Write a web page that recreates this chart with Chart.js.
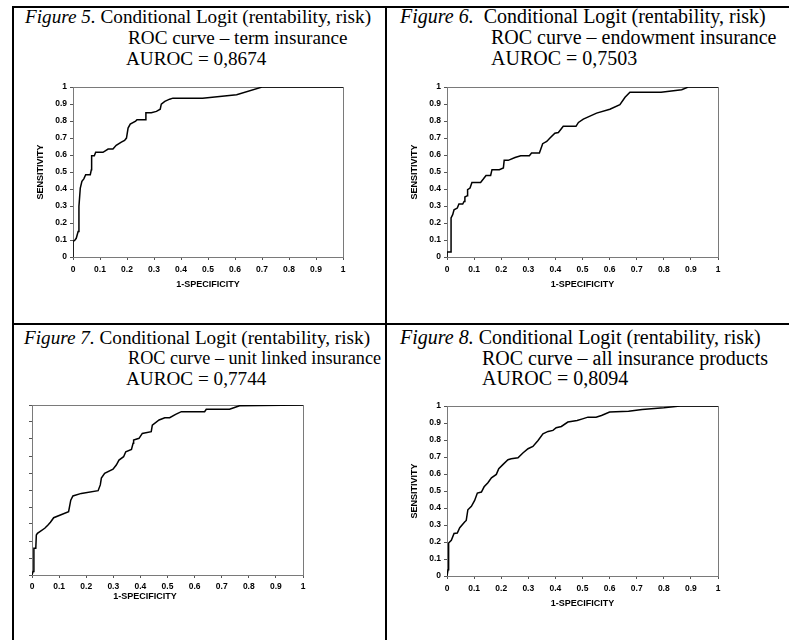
<!DOCTYPE html>
<html>
<head>
<meta charset="utf-8">
<script src="https://cdn.jsdelivr.net/npm/chart.js@4.4.1/dist/chart.umd.min.js"></script>
<style>
  html, body { margin: 0; padding: 0; background: #fff; }
  body { width: 789px; height: 640px; position: relative; overflow: hidden; }
  .rule { position: absolute; background: #000; }
  .cap { position: absolute; font-family: "Liberation Serif", "Times New Roman", serif; font-size: 19.2px; line-height: 21px; white-space: pre; color: #000; }
  .cap.r { font-size: 20px; }
  canvas { position: absolute; }
</style>
</head>
<body>
<!-- table rules -->
<div class="rule" style="left:12px;top:6px;width:2px;height:634px"></div>
<div class="rule" style="left:12px;top:6px;width:777px;height:2px"></div>
<div class="rule" style="left:385px;top:6px;width:2px;height:634px"></div>
<div class="rule" style="left:12px;top:323px;width:777px;height:2px"></div>

<div class="cap" style="left:25px;top:6px"><i>Figure 5.</i> Conditional Logit (rentability, risk)</div>
<div class="cap" style="left:128px;top:27px">ROC curve – term insurance</div>
<div class="cap" style="left:126px;top:48px">AUROC = 0,8674</div>

<div class="cap r" style="left:400px;top:6px"><i>Figure 6.</i>  Conditional Logit (rentability, risk)</div>
<div class="cap r" style="left:491px;top:27px">ROC curve – endowment insurance</div>
<div class="cap r" style="left:491px;top:48px">AUROC = 0,7503</div>

<div class="cap" style="left:24px;top:327px"><i>Figure 7.</i> Conditional Logit (rentability, risk)</div>
<div class="cap" style="left:128px;top:348px;font-size:18.2px">ROC curve – unit linked insurance</div>
<div class="cap" style="left:126px;top:368px">AUROC = 0,7744</div>

<div class="cap r" style="left:400px;top:327px"><i>Figure 8.</i> Conditional Logit (rentability, risk)</div>
<div class="cap r" style="left:482px;top:348px">ROC curve – all insurance products</div>
<div class="cap r" style="left:482px;top:368px">AUROC = 0,8094</div>

<canvas id="fig5"></canvas>
<canvas id="fig6"></canvas>
<canvas id="fig7"></canvas>
<canvas id="fig8"></canvas>

<script>
// tick labels shared by both axes
const tickLabels = ["0", "0.1", "0.2", "0.3", "0.4", "0.5", "0.6", "0.7", "0.8", "0.9", "1"];

// Figure 5 - term insurance
const termFpr = [0, 0, 0.006, 0.012, 0.019, 0.022, 0.027, 0.033, 0.04, 0.047, 0.064, 0.068, 0.069, 0.079, 0.084, 0.111, 0.13, 0.148, 0.16, 0.179, 0.191, 0.198, 0.204, 0.212, 0.232, 0.237, 0.269, 0.27, 0.29, 0.309, 0.323, 0.327, 0.34, 0.358, 0.37, 0.48, 0.606, 0.7, 1];
const termTpr = [0, 0.092, 0.098, 0.11, 0.15, 0.298, 0.406, 0.445, 0.46, 0.484, 0.484, 0.514, 0.596, 0.596, 0.616, 0.616, 0.635, 0.635, 0.657, 0.676, 0.686, 0.7, 0.759, 0.782, 0.8, 0.808, 0.808, 0.849, 0.849, 0.857, 0.87, 0.9, 0.916, 0.929, 0.935, 0.935, 0.955, 1, 1];

// Figure 6 - endowment insurance
const endowFpr = [0, 0, 0.015, 0.015, 0.021, 0.026, 0.038, 0.044, 0.058, 0.063, 0.066, 0.075, 0.076, 0.085, 0.092, 0.124, 0.134, 0.144, 0.161, 0.166, 0.193, 0.208, 0.211, 0.226, 0.251, 0.272, 0.304, 0.312, 0.341, 0.353, 0.368, 0.38, 0.398, 0.411, 0.429, 0.476, 0.485, 0.503, 0.552, 0.601, 0.638, 0.657, 0.675, 0.79, 0.866, 0.89, 1];
const endowTpr = [0, 0.03, 0.03, 0.23, 0.249, 0.278, 0.288, 0.312, 0.312, 0.327, 0.353, 0.361, 0.396, 0.406, 0.439, 0.439, 0.459, 0.48, 0.48, 0.514, 0.514, 0.524, 0.569, 0.569, 0.586, 0.596, 0.596, 0.612, 0.612, 0.667, 0.68, 0.7, 0.729, 0.733, 0.769, 0.769, 0.792, 0.812, 0.847, 0.87, 0.896, 0.94, 0.97, 0.97, 0.985, 1, 1];

// Figure 7 - unit linked insurance
const unitFpr = [0, 0.004, 0.007, 0.007, 0.014, 0.016, 0.02, 0.047, 0.059, 0.068, 0.08, 0.135, 0.143, 0.151, 0.182, 0.244, 0.252, 0.256, 0.268, 0.299, 0.311, 0.321, 0.338, 0.346, 0.367, 0.373, 0.375, 0.395, 0.407, 0.44, 0.444, 0.469, 0.49, 0.508, 0.53, 0.551, 0.637, 0.643, 0.729, 0.766, 1];
const unitTpr = [0, 0.02, 0.033, 0.157, 0.157, 0.235, 0.245, 0.275, 0.294, 0.31, 0.337, 0.373, 0.44, 0.465, 0.48, 0.496, 0.53, 0.57, 0.598, 0.622, 0.647, 0.676, 0.696, 0.725, 0.739, 0.775, 0.794, 0.804, 0.833, 0.843, 0.882, 0.912, 0.925, 0.925, 0.945, 0.961, 0.961, 0.975, 0.975, 0.996, 1];

// Figure 8 - all insurance products
const allFpr = [0, 0.004, 0.006, 0.016, 0.026, 0.038, 0.047, 0.065, 0.071, 0.077, 0.09, 0.102, 0.112, 0.127, 0.137, 0.151, 0.164, 0.182, 0.191, 0.207, 0.225, 0.237, 0.262, 0.28, 0.299, 0.317, 0.336, 0.354, 0.373, 0.391, 0.403, 0.422, 0.446, 0.48, 0.5, 0.52, 0.55, 0.57, 0.6, 0.67, 0.72, 0.8, 0.86, 1];
const allTpr = [0, 0.037, 0.194, 0.21, 0.25, 0.253, 0.284, 0.318, 0.327, 0.39, 0.41, 0.445, 0.488, 0.494, 0.525, 0.549, 0.578, 0.598, 0.631, 0.657, 0.684, 0.69, 0.696, 0.724, 0.749, 0.763, 0.798, 0.837, 0.851, 0.857, 0.873, 0.88, 0.906, 0.915, 0.925, 0.935, 0.935, 0.945, 0.965, 0.97, 0.98, 0.99, 1, 1];

const frameColor = "#7a7a7a";
const tickFont = { family: "Liberation Sans, Arial, sans-serif", size: 8.5, weight: "bold" };
const titleFont = { family: "Liberation Sans, Arial, sans-serif", size: 9, weight: "bold" };

// draws one ROC panel; plot = where the chart area has to land on the page
function rocChart(id, fpr, tpr, plot, opts) {
  const axisW = opts.axisW, axisH = 40, padT = 8, padR = 8;
  const canvas = document.getElementById(id);
  canvas.width = axisW + plot.w + padR;
  canvas.height = padT + plot.h + axisH;
  canvas.style.left = (plot.x - axisW) + "px";
  canvas.style.top = (plot.y - padT) + "px";

  const frame = { color: frameColor, width: 1, dash: [3, 3] };
  const edge = (pos, fit) => ({
    type: "linear", position: pos, min: 0, max: 1,
    ticks: { display: false }, grid: { display: false },
    border: frame, afterFit: fit
  });

  new Chart(canvas, {
    type: "scatter",
    data: {
      datasets: [{
        data: fpr.map((x, i) => ({ x: x, y: tpr[i] })),
        showLine: true,
        borderColor: "#000",
        borderWidth: 1.5,
        pointRadius: 0,
        tension: 0
      }]
    },
    options: {
      responsive: false,
      animation: false,
      layout: { padding: { top: padT, right: padR, left: 0, bottom: 0 } },
      plugins: { legend: { display: false }, tooltip: { enabled: false } },
      scales: {
        x: {
          type: "linear", min: 0, max: 1,
          afterFit: (s) => { s.height = axisH; },
          ticks: {
            stepSize: 0.1, autoSkip: false, maxRotation: 0, padding: opts.xTickPad,
            color: "#000", font: tickFont,
            callback: (v, i) => tickLabels[i]
          },
          grid: { drawOnChartArea: false, drawTicks: true, tickLength: 3, tickColor: "#555" },
          border: frame,
          title: { display: true, text: opts.xTitle, color: "#000", font: titleFont, padding: { top: 0, bottom: opts.xTitlePad } }
        },
        y: {
          type: "linear", min: 0, max: 1,
          afterFit: (s) => { s.width = axisW; },
          ticks: {
            display: opts.yLabels, stepSize: 0.1, autoSkip: false, padding: 3,
            color: "#000", font: tickFont,
            callback: (v, i) => tickLabels[i]
          },
          grid: { drawOnChartArea: false, drawTicks: true, tickLength: 3, tickColor: "#555" },
          border: frame,
          title: { display: opts.yLabels, text: "SENSITIVITY", color: "#000", font: titleFont, padding: { top: 7, bottom: 0 } }
        },
        x2: edge("top", (s) => { s.height = 0; }),
        y2: edge("right", (s) => { s.width = 0; })
      }
    }
  });
}

rocChart("fig5", termFpr, termTpr, { x: 73, y: 87, w: 270, h: 170 },
  { axisW: 45, yLabels: true, xTitle: "1-SPECIFICITY", xTitlePad: 7, xTickPad: 5 });
rocChart("fig6", endowFpr, endowTpr, { x: 447, y: 87, w: 271, h: 170 },
  { axisW: 45, yLabels: true, xTitle: "1-SPECIFICITY", xTitlePad: 7, xTickPad: 5 });
// fig 7 lost its y labels in the source, title sits left of centre
rocChart("fig7", unitFpr, unitTpr, { x: 32, y: 405, w: 271, h: 170 },
  { axisW: 10, yLabels: false, xTitle: "1-SPECIFICITY                  ", xTitlePad: 13, xTickPad: 4 });
rocChart("fig8", allFpr, allTpr, { x: 447, y: 406, w: 271, h: 170 },
  { axisW: 45, yLabels: true, xTitle: "1-SPECIFICITY", xTitlePad: 7, xTickPad: 5 });
</script>
</body>
</html>
